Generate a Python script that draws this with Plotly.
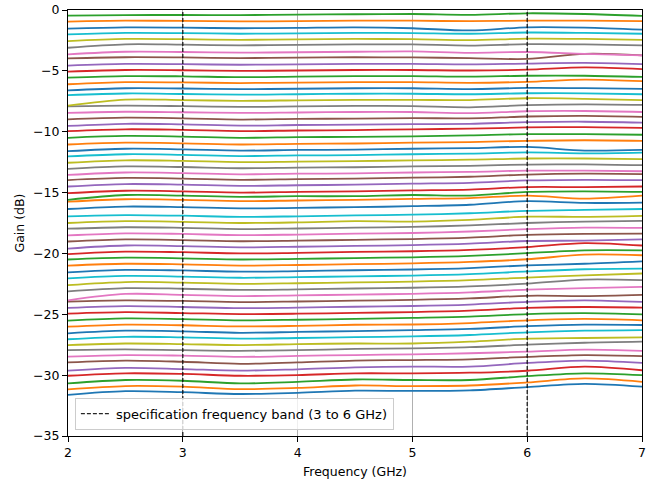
import plotly.graph_objects as go

freq_ghz = [2.0, 2.5, 3.0, 3.5, 4.0, 4.5, 5.0, 5.5, 6.0, 6.5, 7.0]

# gain of each attenuation state (dB), from the most attenuated (bottom) upward
gain_bottom = [
    [-31.62, -31.32, -31.4, -31.55, -31.45, -31.28, -31.3, -31.25, -30.98, -30.72, -30.95],
    [-31.17, -30.9, -30.95, -31.15, -31.05, -30.85, -30.9, -30.85, -30.6, -30.27, -30.55],
    [-30.68, -30.4, -30.46, -30.68, -30.55, -30.36, -30.4, -30.4, -30.08, -29.85, -30.0],
    [-30.05, -29.85, -29.9, -30.05, -30.0, -29.85, -29.85, -29.8, -29.64, -29.3, -29.6],
    [-29.63, -29.4, -29.5, -29.63, -29.52, -29.36, -29.3, -29.3, -29.0, -28.8, -29.0],
    [-28.95, -28.8, -28.9, -29.07, -28.95, -28.8, -28.76, -28.7, -28.5, -28.35, -28.44],
    [-28.48, -28.35, -28.4, -28.5, -28.42, -28.35, -28.29, -28.2, -28.07, -27.9, -28.0],
    [-27.94, -27.88, -27.95, -28.0, -27.95, -27.85, -27.8, -27.7, -27.5, -27.34, -27.25],
    [-27.53, -27.4, -27.45, -27.53, -27.45, -27.4, -27.4, -27.25, -27.0, -26.95, -26.9],
]
gain_lower_mid = [
    [-27.05, -26.85, -26.9, -27.0, -26.95, -26.88, -26.82, -26.7, -26.48, -26.35, -26.3],
    [-26.57, -26.35, -26.4, -26.52, -26.45, -26.38, -26.3, -26.2, -25.98, -25.85, -25.88],
    [-26.02, -25.85, -25.9, -26.0, -25.95, -25.86, -25.84, -25.72, -25.5, -25.38, -25.5],
    [-25.52, -25.34, -25.4, -25.5, -25.45, -25.38, -25.3, -25.2, -24.98, -24.9, -25.0],
    [-24.95, -24.83, -24.9, -24.98, -24.95, -24.88, -24.82, -24.7, -24.48, -24.4, -24.45],
    [-24.48, -24.33, -24.4, -24.5, -24.45, -24.38, -24.32, -24.2, -23.98, -23.85, -23.98],
    [-23.95, -23.85, -23.9, -24.0, -23.95, -23.88, -23.82, -23.7, -23.48, -23.5, -23.4],
    [-23.85, -23.33, -23.4, -23.5, -23.45, -23.38, -23.32, -23.2, -22.98, -22.85, -22.75],
    [-23.12, -22.85, -22.9, -23.0, -22.95, -22.88, -22.82, -22.7, -22.48, -22.15, -22.2],
    [-22.6, -22.35, -22.4, -22.5, -22.45, -22.38, -22.32, -22.2, -21.98, -21.8, -21.65],
    [-22.05, -21.85, -21.9, -22.0, -21.95, -21.88, -21.82, -21.7, -21.48, -21.3, -21.25],
    [-21.55, -21.35, -21.4, -21.5, -21.45, -21.38, -21.32, -21.2, -20.98, -20.85, -20.65],
    [-21.0, -20.85, -20.9, -21.0, -20.95, -20.88, -20.82, -20.7, -20.48, -20.1, -20.15],
    [-20.5, -20.35, -20.4, -20.5, -20.45, -20.38, -20.32, -20.2, -19.98, -19.75, -19.75],
    [-20.05, -19.85, -19.9, -20.0, -19.95, -19.88, -19.82, -19.7, -19.48, -19.15, -19.35],
    [-19.6, -19.35, -19.4, -19.5, -19.45, -19.38, -19.32, -19.2, -18.98, -18.95, -18.85],
    [-19.02, -18.85, -18.9, -19.0, -18.95, -18.88, -18.82, -18.7, -18.48, -18.4, -18.38],
    [-18.52, -18.35, -18.4, -18.5, -18.45, -18.38, -18.32, -18.2, -18.0, -17.88, -17.9],
    [-17.97, -17.85, -17.9, -18.0, -17.95, -17.88, -17.82, -17.7, -17.5, -17.38, -17.32],
    [-17.5, -17.35, -17.4, -17.5, -17.45, -17.35, -17.38, -17.25, -16.98, -17.0, -16.92],
    [-16.95, -16.85, -16.9, -17.0, -16.95, -16.88, -16.82, -16.7, -16.5, -16.42, -16.35],
]
gain_upper_mid = [
    [-16.35, -16.15, -16.2, -16.3, -16.25, -16.2, -16.12, -16.0, -15.7, -15.85, -15.82],
    [-15.75, -15.55, -15.6, -15.7, -15.65, -15.6, -15.52, -15.45, -15.25, -15.5, -15.25],
    [-15.6, -15.2, -15.25, -15.35, -15.3, -15.3, -15.2, -15.25, -14.95, -14.9, -14.95],
    [-15.05, -14.85, -14.9, -15.0, -14.95, -14.9, -14.82, -14.75, -14.55, -14.55, -14.5],
    [-14.5, -14.3, -14.35, -14.45, -14.4, -14.35, -14.27, -14.2, -14.0, -13.95, -13.98],
    [-13.97, -13.8, -13.85, -13.95, -13.9, -13.85, -13.78, -13.7, -13.52, -13.45, -13.48],
    [-13.55, -13.35, -13.4, -13.5, -13.45, -13.42, -13.35, -13.3, -13.2, -13.2, -13.25],
    [-13.05, -12.85, -12.9, -13.0, -12.95, -12.92, -12.85, -12.8, -12.7, -12.68, -12.75],
    [-12.55, -12.35, -12.4, -12.5, -12.45, -12.42, -12.35, -12.3, -12.2, -12.2, -12.25],
    [-12.03, -11.85, -11.9, -12.0, -11.95, -11.92, -11.85, -11.8, -11.7, -11.78, -11.72],
    [-11.6, -11.4, -11.45, -11.55, -11.5, -11.47, -11.4, -11.35, -11.25, -11.55, -11.5],
    [-11.05, -10.9, -10.95, -11.05, -11.0, -10.97, -10.9, -10.85, -10.75, -10.7, -10.75],
    [-10.5, -10.35, -10.4, -10.5, -10.45, -10.42, -10.38, -10.3, -10.2, -10.2, -10.25],
    [-9.95, -9.8, -9.85, -9.95, -9.9, -9.87, -9.8, -9.75, -9.65, -9.62, -9.68],
    [-9.52, -9.35, -9.4, -9.5, -9.45, -9.42, -9.38, -9.35, -9.22, -9.18, -9.25],
    [-8.98, -8.85, -8.9, -9.0, -8.95, -8.92, -8.88, -8.9, -8.75, -8.7, -8.78],
]
gain_top = [
    [-8.45, -8.36, -8.4, -8.46, -8.42, -8.38, -8.38, -8.48, -8.32, -8.3, -8.38],
    [-7.92, -7.86, -7.9, -7.96, -7.92, -7.88, -7.9, -8.0, -7.82, -7.75, -7.8],
    [-7.85, -7.36, -7.4, -7.46, -7.42, -7.38, -7.38, -7.4, -7.25, -7.3, -7.4],
    [-7.0, -6.86, -6.9, -6.96, -6.92, -6.88, -6.88, -6.92, -6.84, -6.85, -6.92],
    [-6.6, -6.43, -6.45, -6.5, -6.47, -6.43, -6.43, -6.5, -6.4, -6.42, -6.48],
    [-6.1, -5.93, -5.95, -6.0, -5.97, -5.93, -5.93, -5.98, -5.9, -5.72, -5.85],
    [-5.56, -5.43, -5.45, -5.52, -5.47, -5.43, -5.43, -5.48, -5.4, -5.4, -5.5],
    [-5.07, -4.93, -4.95, -5.0, -4.97, -4.93, -4.93, -4.97, -4.9, -4.72, -4.85],
    [-4.57, -4.43, -4.45, -4.5, -4.47, -4.43, -4.43, -4.47, -4.4, -4.35, -4.45],
    [-3.97, -3.88, -3.9, -3.95, -3.92, -3.88, -3.9, -3.95, -4.02, -3.6, -3.72],
    [-3.64, -3.43, -3.45, -3.5, -3.47, -3.43, -3.4, -3.52, -3.45, -3.6, -3.72],
    [-3.1, -2.82, -2.85, -2.9, -2.87, -2.83, -2.83, -2.92, -2.8, -2.82, -2.9],
    [-2.55, -2.38, -2.4, -2.45, -2.42, -2.38, -2.4, -2.48, -2.35, -2.37, -2.45],
    [-2.0, -1.88, -1.9, -1.95, -1.92, -1.88, -1.9, -1.95, -1.85, -1.88, -1.95],
    [-1.53, -1.43, -1.45, -1.5, -1.47, -1.43, -1.5, -1.68, -1.42, -1.45, -1.62],
    [-0.95, -0.88, -0.9, -0.94, -0.92, -0.88, -0.88, -0.92, -0.87, -0.88, -0.92],
    [-0.47, -0.42, -0.41, -0.42, -0.38, -0.35, -0.33, -0.4, -0.27, -0.33, -0.48],
]

band_edges_ghz = [3.0, 6.0]
band_label = "specification frequency band (3 to 6 GHz)"
x_ticks = [2, 3, 4, 5, 6, 7]
y_ticks = [-35, -30, -25, -20, -15, -10, -5, 0]

palette = ["#1f77b4", "#ff7f0e", "#2ca02c", "#d62728", "#9467bd",
           "#8c564b", "#e377c2", "#7f7f7f", "#bcbd22", "#17becf"]

all_states = gain_bottom + gain_lower_mid + gain_upper_mid + gain_top

fig = go.Figure()
for i, g in enumerate(all_states):
    fig.add_trace(go.Scatter(
        x=freq_ghz, y=g, mode="lines",
        line=dict(color=palette[i % 10], width=1.8, shape="spline", smoothing=0.9),
        showlegend=False, hoverinfo="skip"))

bx, by = [], []
for e in band_edges_ghz:
    bx += [e, e, None]
    by += [-35, 0, None]
fig.add_trace(go.Scatter(
    x=bx, y=by, mode="lines", name=band_label,
    line=dict(color="rgba(0,0,0,0.85)", width=1.3, dash="4px,2px"),
    showlegend=True))

font_family = "DejaVu Sans"
fig.update_layout(
    width=660, height=479,
    margin=dict(l=68, r=18, t=10, b=43),
    paper_bgcolor="white", plot_bgcolor="white",
    font=dict(family=font_family, size=12, color="black"),
    legend=dict(x=0.012, y=0.015, xanchor="left", yanchor="bottom",
                bgcolor="rgba(255,255,255,0.8)", bordercolor="#cccccc",
                borderwidth=1, font=dict(size=13), itemwidth=30),
)
fig.update_xaxes(
    range=[2, 7], tickvals=x_ticks, showgrid=True, gridcolor="#b0b0b0",
    gridwidth=0.8, zeroline=False, showline=True, linecolor="black",
    linewidth=1, mirror=True, ticks="outside", ticklen=5, tickcolor="black",
    automargin=False,
    title=dict(text="Frequency (GHz)", standoff=8, font=dict(size=12.5)),
    tickfont=dict(size=12.5))
fig.update_yaxes(
    range=[-35, 0], tickvals=y_ticks, showgrid=False, zeroline=False,
    showline=True, linecolor="black", linewidth=1, mirror=True,
    ticks="outside", ticklen=5, tickcolor="black", automargin=False,
    title=dict(text="Gain (dB)", standoff=5, font=dict(size=12.5)),
    tickfont=dict(size=12.5))

fig.write_html("out.html")
